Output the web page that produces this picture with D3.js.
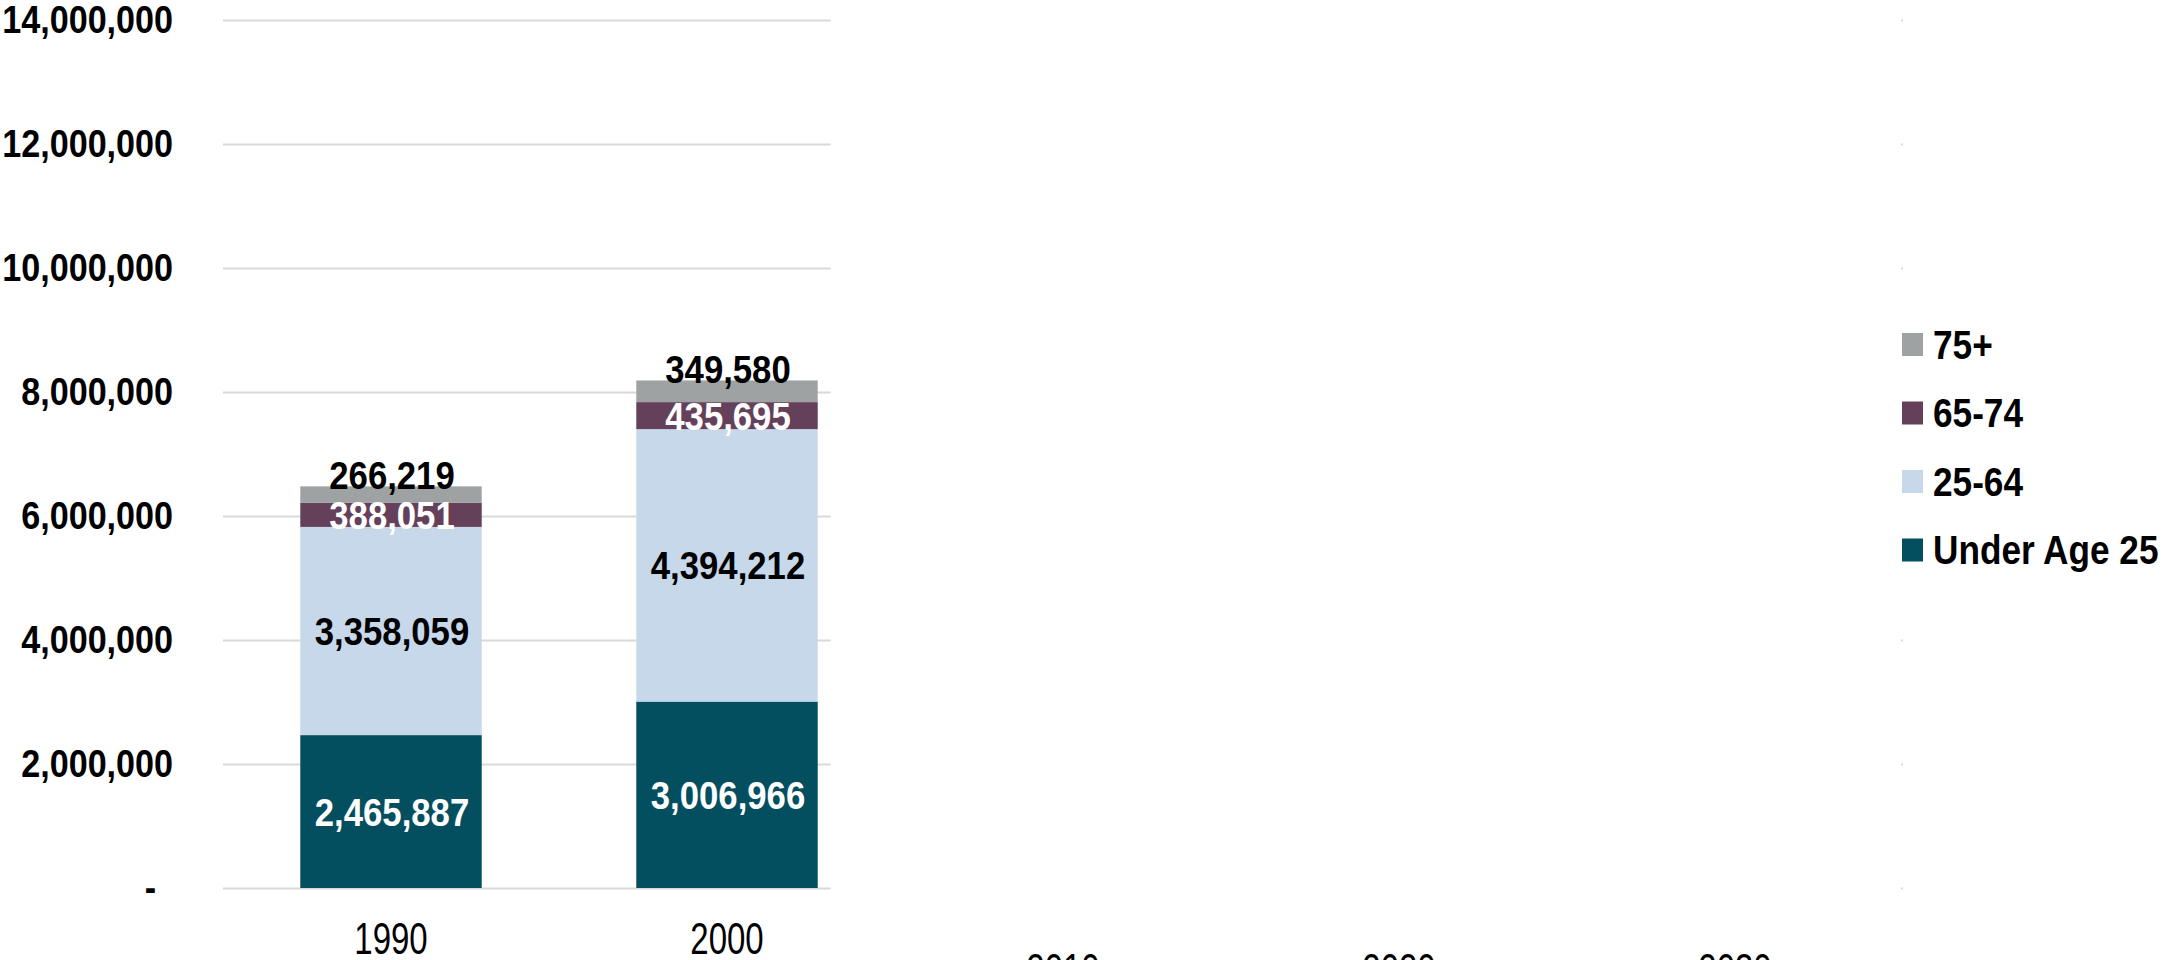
<!DOCTYPE html>
<html><head><meta charset="utf-8">
<script src="https://cdn.jsdelivr.net/npm/d3@7"></script>
<style>
html,body{margin:0;padding:0;background:#fff;}
svg{display:block;}
text{font-family:"Liberation Sans",Arial,sans-serif;}
</style></head><body>
<svg id="chart" width="2169" height="960"></svg>
<script>
// ---- data ----
const years = ["1990", "2000", "2010", "2020", "2030"];
const seriesNames = ["Under Age 25", "25-64", "65-74", "75+"];
const under25   = [2465887, 3006966, null, null, null];
const age25to64 = [3358059, 4394212, null, null, null];
const age65to74 = [388051, 435695, null, null, null];
const age75plus = [266219, 349580, null, null, null];
const yTicks = [0, 2000000, 4000000, 6000000, 8000000, 10000000, 12000000, 14000000];
const seriesColors = ["#034f60", "#c6d8ea", "#65405a", "#9ea2a3"];
const labelColors = ["#ffffff", "#000000", "#ffffff", "#000000"];

const seriesValues = [under25, age25to64, age65to74, age75plus];
const rows = years.map((yr, i) => {
  const r = {year: yr, hasData: seriesValues.some(s => s[i] != null)};
  seriesNames.forEach((n, k) => r[n] = seriesValues[k][i] || 0);
  return r;
});

const svg = d3.select("#chart");
const W = 2169, H = 960;
const plot = {left: 223, right: 1903, top: 20, bottom: 888};

const x = d3.scaleBand().domain(years).range([plot.left, plot.right])
  .paddingInner(0.46).paddingOuter(0.23);
const y = d3.scaleLinear().domain([0, 14000000]).range([plot.bottom, plot.top]);

// gridlines
const grid = svg.append("g").attr("transform", `translate(${plot.left},0)`)
  .call(d3.axisLeft(y).tickValues(yTicks).tickSize(-(plot.right - plot.left)).tickFormat(""));
grid.select(".domain").remove();
grid.selectAll(".tick line").attr("stroke", "#d9d9d9").attr("stroke-width", 2);

// white mask over the empty future part of the plot (as in the reference)
const maskX = x("2000") + x.bandwidth() + 13;
svg.append("rect").attr("x", maskX).attr("y", 0)
  .attr("width", plot.right - 2 - maskX).attr("height", plot.bottom + 12)
  .attr("fill", "#fff");

// stacked bars
const stacked = d3.stack().keys(seriesNames)(rows.filter(r => r.hasData));
const layers = svg.append("g").selectAll("g").data(stacked).join("g")
  .attr("fill", (d, i) => seriesColors[i]);
layers.selectAll("rect").data(d => d).join("rect")
  .attr("x", d => x(d.data.year))
  .attr("width", x.bandwidth())
  .attr("y", d => y(d[1]))
  .attr("height", d => y(d[0]) - y(d[1]));

// data labels
const fmt = d3.format(",");
const lab = svg.append("g");
stacked.forEach((layer, i) => {
  layer.forEach(d => {
    const cx = x(d.data.year) + x.bandwidth() / 2 + 1;
    let cy, dy;
    if (i === seriesNames.length - 1) { cy = y(d[1]) + 3; dy = "0"; }
    else { cy = (y(d[0]) + y(d[1])) / 2; dy = "0.36em"; }
    lab.append("text")
      .attr("transform", `translate(${cx},${cy}) scale(0.89,1)`)
      .attr("dy", dy)
      .attr("text-anchor", "middle")
      .attr("font-size", 39).attr("font-weight", "bold")
      .attr("fill", labelColors[i])
      .text(fmt(d.data[layer.key]));
  });
});

// y axis labels
const yAxis = svg.append("g").attr("transform", `translate(${plot.left},0)`)
  .call(d3.axisLeft(y).tickValues(yTicks).tickSize(0).tickFormat(v => v === 0 ? "-" : fmt(v)));
yAxis.select(".domain").remove();
yAxis.selectAll(".tick text")
  .attr("x", 0).attr("dy", "0.32em")
  .attr("transform", d => `translate(${d === 0 ? -67 : -50},0) scale(0.875,1)`)
  .attr("text-anchor", "end")
  .attr("font-size", 39).attr("font-weight", "bold")
  .attr("font-family", '"Liberation Sans",Arial,sans-serif')
  .attr("fill", "#000");

// x axis labels
const xAxis = svg.append("g").attr("transform", `translate(0,${plot.bottom})`)
  .call(d3.axisBottom(x).tickSize(0));
xAxis.select(".domain").remove();
xAxis.selectAll(".tick text")
  .attr("y", 0).attr("dy", 0)
  .attr("transform", d => {
    const r = rows.find(rr => rr.year === d);
    return `translate(0,${r.hasData ? 66 : 97}) scale(0.75,1)`;
  })
  .attr("font-size", 44)
  .attr("font-family", '"Liberation Sans",Arial,sans-serif')
  .attr("fill", "#000");

// legend
const legend = svg.append("g");
legend.append("rect").attr("x", 1895).attr("y", 318).attr("width", W - 1895).attr("height", 262).attr("fill", "#fff");
const legendOrder = [3, 2, 1, 0];
legendOrder.forEach((k, j) => {
  const top = 333 + j * 68.5;
  legend.append("rect").attr("x", 1902).attr("y", top).attr("width", 21).attr("height", 23)
    .attr("fill", seriesColors[k]);
  legend.append("text")
    .attr("transform", `translate(1933,${top + 11.5}) scale(0.88,1)`)
    .attr("dy", "0.36em")
    .attr("font-size", 40).attr("font-weight", "bold").attr("fill", "#000")
    .text(seriesNames[k]);
});
</script>
</body></html>
